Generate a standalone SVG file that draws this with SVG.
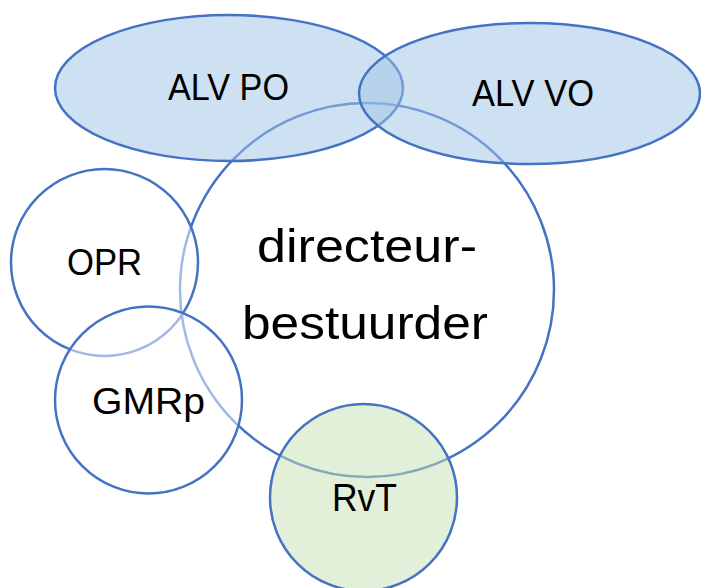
<svg xmlns="http://www.w3.org/2000/svg" width="701" height="588" viewBox="0 0 701 588">
<style>
.s{stroke:#4472C4;stroke-width:2.5}
.w{fill:#fff;fill-opacity:0.5}
.b{fill:#9DC3E6;fill-opacity:0.5}
.g{fill:#C5E0B4;fill-opacity:0.5}
text{font-family:"Liberation Sans",Arial,sans-serif;fill:#000;text-anchor:middle}
</style>
<rect width="701" height="588" fill="#fff"/>
<g id="directeur-bestuurder">
<circle class="s w" cx="367" cy="290" r="187"/>
<text x="367" y="262" font-size="47" textLength="220" lengthAdjust="spacingAndGlyphs">directeur-</text>
<text x="365" y="339" font-size="47" textLength="246" lengthAdjust="spacingAndGlyphs">bestuurder</text>
</g>
<g id="OPR">
<circle class="s w" cx="104.5" cy="262.5" r="93.5"/>
<text x="104.5" y="275" font-size="37" textLength="75" lengthAdjust="spacingAndGlyphs">OPR</text>
</g>
<g id="GMRp">
<circle class="s w" cx="148.5" cy="400" r="93.5"/>
<text x="148.5" y="414" font-size="37" textLength="113" lengthAdjust="spacingAndGlyphs">GMRp</text>
</g>
<g id="RvT">
<circle class="s g" cx="363.5" cy="497.5" r="93.5"/>
<text x="364.5" y="511" font-size="38" textLength="65" lengthAdjust="spacingAndGlyphs">RvT</text>
</g>
<g id="ALV_PO">
<ellipse class="s b" cx="229" cy="88" rx="174" ry="73"/>
<text x="228.5" y="100" font-size="36" textLength="121" lengthAdjust="spacingAndGlyphs">ALV PO</text>
</g>
<g id="ALV_VO">
<ellipse class="s b" cx="529.5" cy="93.5" rx="170.5" ry="70.5"/>
<text x="533" y="106" font-size="36" textLength="122" lengthAdjust="spacingAndGlyphs">ALV VO</text>
</g>
<g id="connectors"></g>
</svg>
